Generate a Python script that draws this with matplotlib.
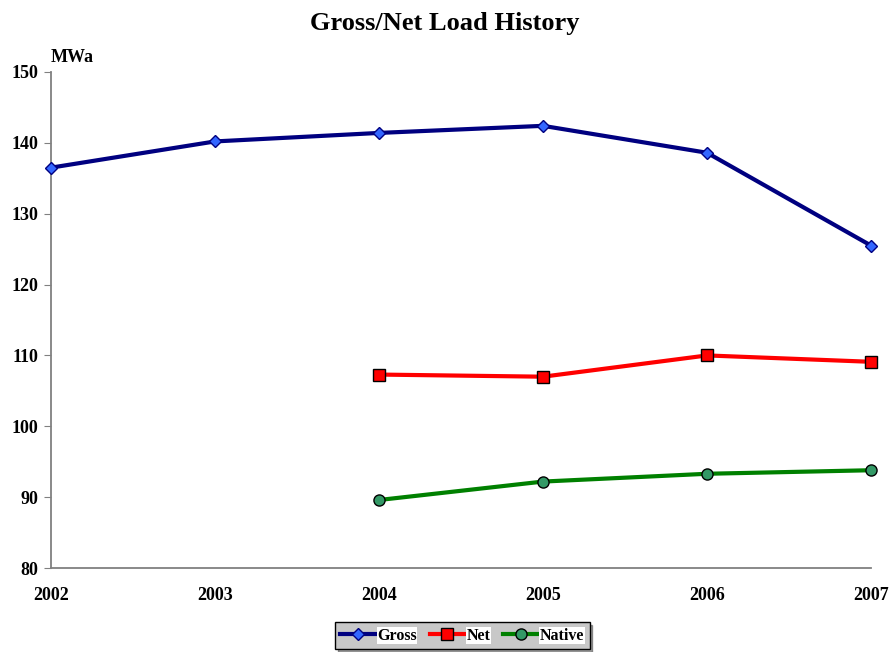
import matplotlib.pyplot as plt
import numpy as np

plt.rcParams['font.family'] = ['Liberation Serif', 'DejaVu Serif']
plt.rcParams['font.weight'] = 'bold'

years = [2002, 2003, 2004, 2005, 2006, 2007]
gross = [136.5, 140.2, 141.4, 142.4, 138.6, 125.5]
net_years = [2004, 2005, 2006, 2007]
net = [107.3, 107.0, 110.0, 109.1]
native_years = [2004, 2005, 2006, 2007]
native = [89.6, 92.2, 93.3, 93.8]

fig = plt.figure(figsize=(8.89, 6.52), dpi=100)
ax = fig.add_axes([0.0574, 0.1288, 0.9224, 0.7608])

ax.plot(years, gross, color='#000080', lw=3, marker='D', ms=6.5,
        mfc='#3366ff', mec='#000080', mew=1, label='Gross', clip_on=False, zorder=3)
ax.plot(net_years, net, color='#ff0000', lw=3, marker='s', ms=8,
        mfc='#ff0000', mec='#000000', mew=1, label='Net', clip_on=False, zorder=3)
ax.plot(native_years, native, color='#008000', lw=3, marker='o', ms=8,
        mfc='#339966', mec='#000000', mew=1, label='Native', clip_on=False, zorder=3)

ax.set_xlim(2002, 2007)
ax.set_ylim(80, 150)
ax.set_yticks(np.arange(80, 151, 10))
ax.set_xticks(years)
for s in ['top', 'right']:
    ax.spines[s].set_visible(False)
for s in ['left', 'bottom']:
    ax.spines[s].set_color('#808080')
    ax.spines[s].set_linewidth(1.3)
ax.tick_params(axis='y', length=5, color='#808080', labelsize=13, pad=4)
ax.tick_params(axis='x', length=0, labelsize=13, pad=14)
for lab in ax.get_xticklabels() + ax.get_yticklabels():
    lab.set_fontweight('bold')

ax.text(0.0, 1.012, 'MWa', transform=ax.transAxes, fontsize=13,
        fontweight='bold', ha='left', va='bottom')
fig.suptitle('Gross/Net Load History', fontsize=19, fontweight='bold', y=0.982)

# legend box: grey fill, white patches behind the labels, drop shadow
leg = fig.legend(loc='center', bbox_to_anchor=(0.52, 0.025), ncol=3,
                 fontsize=11.5, frameon=True, fancybox=False, shadow=True,
                 handlelength=2.2, handletextpad=0.1, columnspacing=0.8,
                 borderpad=0.35, edgecolor='black', facecolor='#c8c8c8',
                 framealpha=1)
leg.get_frame().set_linewidth(1)
for t in leg.get_texts():
    t.set_fontweight('bold')
    t.set_bbox(dict(facecolor='white', edgecolor='none', pad=0.5))

fig.savefig('out.png', dpi=100)
